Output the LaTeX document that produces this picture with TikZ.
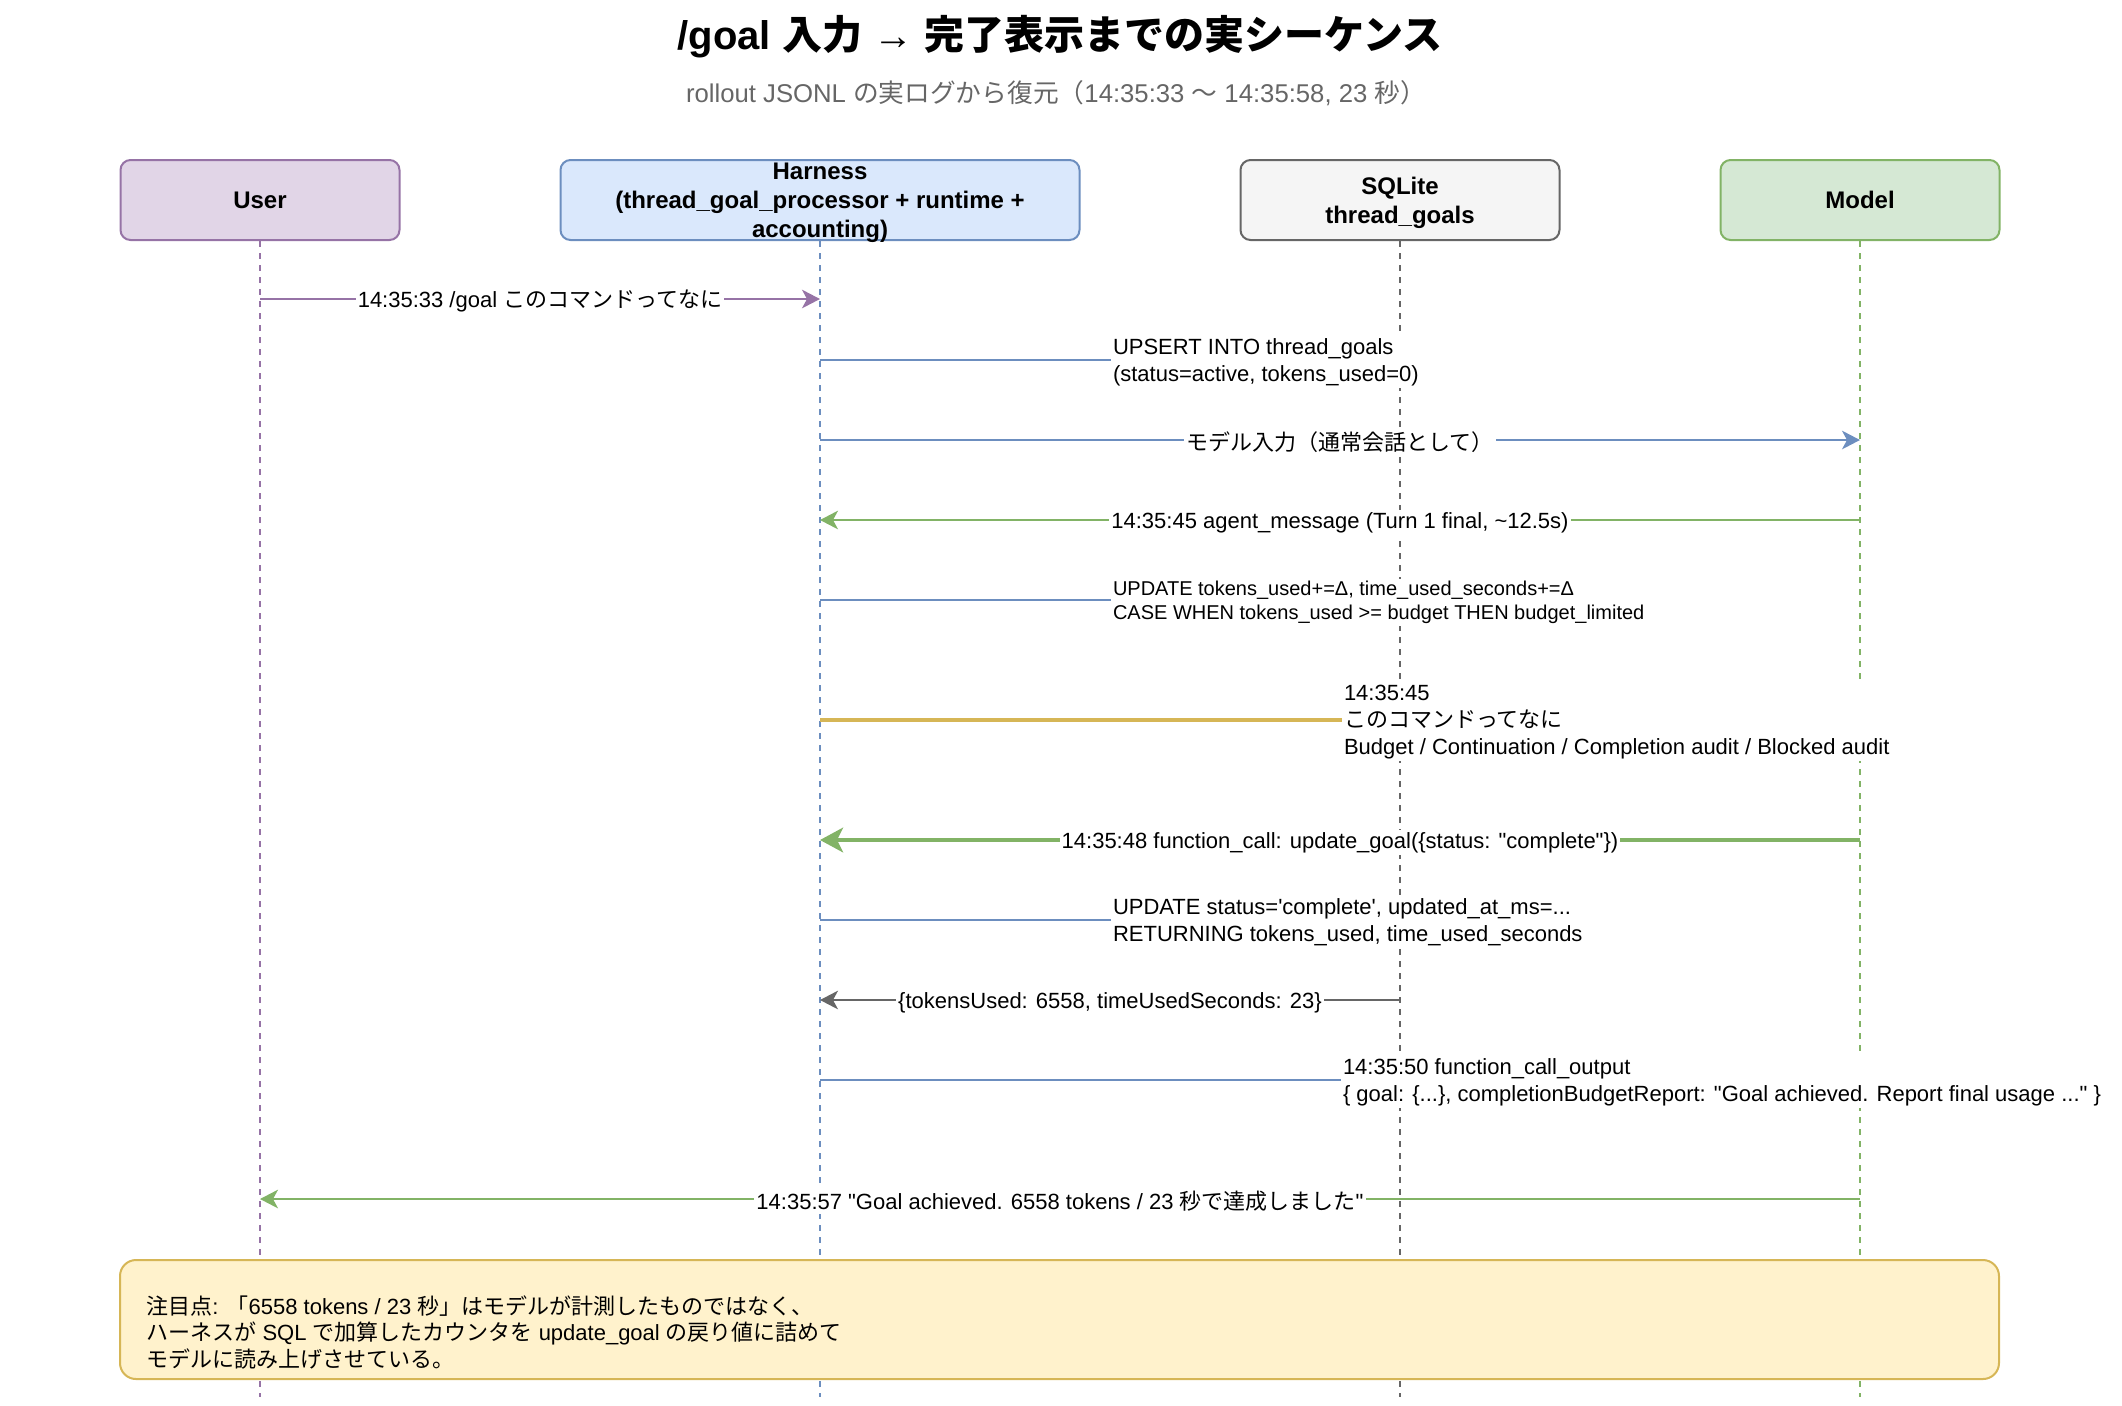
\documentclass[tikz,border=0pt]{standalone}
\usepackage{fontspec}
\setmainfont{Liberation Sans}[Ligatures=TeXOff]
\newfontfamily\jpfont{Noto Sans CJK JP}
\newcommand{\ja}[1]{{\jpfont #1}}
\usetikzlibrary{arrows.meta}
\definecolor{usrfill}{HTML}{E1D5E7}
\definecolor{usrline}{HTML}{9673A6}
\definecolor{hrnfill}{HTML}{DAE8FC}
\definecolor{hrnline}{HTML}{6C8EBF}
\definecolor{sqlfill}{HTML}{F5F5F5}
\definecolor{sqlline}{HTML}{666666}
\definecolor{mdlfill}{HTML}{D5E8D4}
\definecolor{mdlline}{HTML}{82B366}
\definecolor{notefill}{HTML}{FFF2CC}
\definecolor{noteline}{HTML}{D6B656}
\begin{document}
\begin{tikzpicture}[x=0.5pt, y=-0.5pt, >={Stealth[length=9pt, width=9.3pt, inset=2.5pt]},
    actor/.style={draw, line width=1pt, rounded corners=5pt, inner sep=0pt, minimum height=40pt,
      align=center, text depth=0pt, font=\bfseries\fontsize{12}{14.5}\selectfont},
    life/.style={line width=1pt, dash pattern=on 3pt off 3pt},
    msg/.style={->, line width=1pt},
    bigmsg/.style={-{Stealth[length=11.5pt, width=12.3pt, inset=3pt]}, line width=2pt},
    lbl/.style={fill=white, text=black, inner xsep=1pt, inner ysep=1pt, align=left,
      yshift=-1.2pt, font=\fontsize{11}{13.5}\selectfont},
    small/.style={font=\fontsize{10}{12.2}\selectfont}]
  \useasboundingbox (0,0) rectangle (2122,1405);
  \node[font=\bfseries\fontsize{20}{24}\selectfont] (title) at (1060,37)
    {/goal \ja{入力} → \ja{完了表示までの実シーケンス}};
  \node[font=\fontsize{12.85}{16}\selectfont, text=sqlline] (sub) at (1056,93)
    {rollout JSONL \ja{の実ログから復元（}14:35:33 \ja{〜} 14:35:58, 23 \ja{秒）}};

  \node[actor, fill=usrfill, draw=usrline, minimum width=139.5pt] (user) at (260,200) {User};
  \node[actor, fill=hrnfill, draw=hrnline, minimum width=259.5pt] (harness) at (820,200)
    {Harness\\(thread\_goal\_processor + runtime +\\accounting)};
  \node[actor, fill=sqlfill, draw=sqlline, minimum width=159.5pt] (sqlite) at (1400,200)
    {SQLite\\thread\_goals};
  \node[actor, fill=mdlfill, draw=mdlline, minimum width=139.5pt] (model) at (1860,200) {Model};

  \coordinate (bottom) at (0,1397);
  \draw[life, usrline] (user.south) -- (user |- bottom);
  \draw[life, hrnline] (harness.south) -- (harness |- bottom);
  \draw[life, sqlline] (sqlite.south) -- (sqlite |- bottom);
  \draw[life, mdlline] (model.south) -- (model |- bottom);

  \coordinate (m1) at (0,299);
  \coordinate (m2) at (0,360);
  \coordinate (m3) at (0,440);
  \coordinate (m4) at (0,520);
  \coordinate (m5) at (0,600);
  \coordinate (m6) at (0,720);
  \coordinate (m7) at (0,840);
  \coordinate (m8) at (0,920);
  \coordinate (m9) at (0,1000);
  \coordinate (m10) at (0,1080);
  \coordinate (m11) at (0,1199);

  \draw[msg, usrline] (user |- m1) -- node[lbl] {14:35:33 /goal \ja{このコマンドってなに}} (harness |- m1);
  \draw[msg, hrnline] (harness |- m2) -- node[lbl, anchor=west]
    {UPSERT INTO thread\_goals\\(status=active, tokens\_used=0)} (sqlite |- m2);
  \draw[msg, hrnline] (harness |- m3) -- node[lbl] {\ja{モデル入力（通常会話として）}} (model |- m3);
  \draw[msg, mdlline] (model |- m4) -- node[lbl]
    {14:35:45 agent\_message (Turn 1 final, \textasciitilde12.5s)} (harness |- m4);
  \draw[msg, hrnline] (harness |- m5) -- node[lbl, small, anchor=west]
    {UPDATE tokens\_used+=Δ, time\_used\_seconds+=Δ\\CASE WHEN tokens\_used >= budget THEN budget\_limited} (sqlite |- m5);
  \draw[bigmsg, noteline] (harness |- m6) -- node[lbl, anchor=west]
    {14:35:45\\\ja{このコマンドってなに}\\Budget / Continuation / Completion audit / Blocked audit} (model |- m6);
  \draw[bigmsg, mdlline] (model |- m7) -- node[lbl]
    {14:35:48 function\_call: update\_goal(\{status: "complete"\})} (harness |- m7);
  \draw[msg, hrnline] (harness |- m8) -- node[lbl, anchor=west]
    {UPDATE status='complete', updated\_at\_ms=...\\RETURNING tokens\_used, time\_used\_seconds} (sqlite |- m8);
  \draw[msg, sqlline] (sqlite |- m9) -- node[lbl] {\{tokensUsed: 6558, timeUsedSeconds: 23\}} (harness |- m9);
  \draw[msg, hrnline] (harness |- m10) -- node[lbl, anchor=west]
    {14:35:50 function\_call\_output\\\{ goal: \{...\}, completionBudgetReport: "Goal achieved. Report final usage ..." \}} (model |- m10);
  \draw[msg, mdlline] (model |- m11) -- node[lbl]
    {14:35:57 "Goal achieved. 6558 tokens / 23 \ja{秒で達成しました}"} (user |- m11);

  \node[draw=noteline, fill=notefill, line width=1pt, rounded corners=8pt,
    minimum width=939.5pt, minimum height=59.5pt] (note) at (1059.5,1319.5) {};
  \node[anchor=west, align=left, inner sep=0pt, font=\fontsize{11}{13.25}\selectfont] (notetext) at (146,1332)
    {\ja{注目点}: \ja{「}6558 tokens / 23 \ja{秒」はモデルが計測したものではなく、}\\
     \ja{ハーネスが} SQL \ja{で加算したカウンタを} update\_goal \ja{の戻り値に詰めて}\\
     \ja{モデルに読み上げさせている。}};
\end{tikzpicture}
\end{document}
